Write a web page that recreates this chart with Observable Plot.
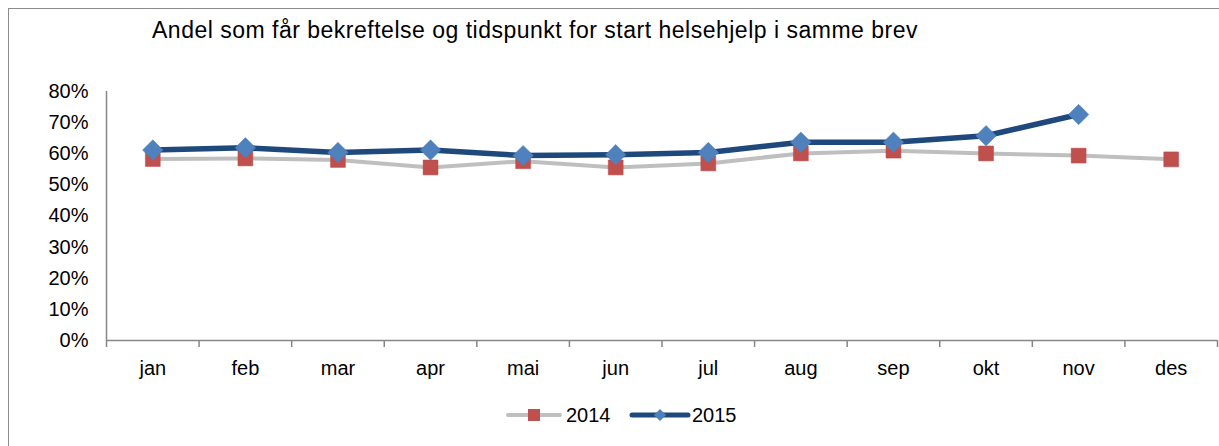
<!DOCTYPE html>
<html>
<head>
<meta charset="utf-8">
<script src="https://cdn.jsdelivr.net/npm/d3@7"></script>
<script src="https://cdn.jsdelivr.net/npm/@observablehq/plot@0.6"></script>
<style>
  body { margin: 0; background: #fff; }
  #wrap { position: relative; width: 1219px; height: 446px; overflow: hidden; background: #fff; font-family: "Liberation Sans", Arial, sans-serif; }
  #frame { position: absolute; left: 8px; top: 8px; width: 1400px; height: 600px; border: 1.5px solid #8c8c8c; box-sizing: border-box; }
  #title { position: absolute; left: 152px; top: 17px; font-size: 23px; line-height: 26px; color: #000; white-space: nowrap; letter-spacing: 0.5px; }
  #chart { position: absolute; left: 0; top: 60px; }
  #legend { position: absolute; left: 0; top: 402px; width: 1219px; height: 26px; }
  #legend span { position: absolute; top: 0; font-size: 20px; line-height: 26px; }
</style>
</head>
<body>
<div id="wrap">
  <div id="frame"></div>
  <div id="title"></div>
  <div id="chart"></div>
  <div id="legend"></div>
</div>
<script>
const titleText = "Andel som får bekreftelse og tidspunkt for start helsehjelp i samme brev";
const months = ["jan","feb","mar","apr","mai","jun","jul","aug","sep","okt","nov","des"];
const series = ["2014", "2015"];
const v2014 = [58.3, 58.5, 58.0, 55.6, 57.6, 55.6, 56.9, 60.1, 61.0, 60.1, 59.4, 58.2];
const v2015 = [61.2, 61.9, 60.4, 61.2, 59.4, 59.7, 60.4, 63.7, 63.7, 65.8, 72.6];
const yTicks = [0, 10, 20, 30, 40, 50, 60, 70, 80];

const c2014line = "#BFBFBF", c2014mark = "#C0504D";
const c2015line = "#1F497D", c2015mark = "#4F81BD";

const d2014 = v2014.map((v, i) => ({x: i + 0.5, month: months[i], v}));
const d2015 = v2015.map((v, i) => ({x: i + 0.5, month: months[i], v}));
const monthPos = months.map((m, i) => ({x: i + 0.5, m}));
const bounds = d3.range(months.length + 1);

document.getElementById("title").textContent = titleText;

const chart = Plot.plot({
  width: 1219,
  height: 330,
  marginLeft: 106,
  marginRight: 2,
  marginTop: 31,
  marginBottom: 50,
  style: {fontFamily: "Liberation Sans, Arial, sans-serif", fontSize: "20px", color: "#000", background: "transparent", overflow: "visible"},
  x: {type: "linear", domain: [0, months.length], axis: null},
  y: {type: "linear", domain: [0, 80], axis: null},
  marks: [
    Plot.axisY({ticks: yTicks, tickFormat: d => d + "%", tickSize: 0, tickPadding: 18, fontSize: 20, fill: "#000", label: null}),
    Plot.ruleX([0], {y1: 0, y2: 80, stroke: "#868686", strokeWidth: 1.5}),
    Plot.ruleY([0], {stroke: "#868686", strokeWidth: 1.5}),
    Plot.ruleX(bounds, {x: d => d, y1: 0, y2: 0, insetBottom: -7, stroke: "#868686", strokeWidth: 1.5}),
    Plot.text(monthPos, {x: "x", y: 0, text: "m", dy: 28, fontSize: 20, fill: "#000"}),
    Plot.line(d2014, {x: "x", y: "v", stroke: c2014line, strokeWidth: 4}),
    Plot.dot(d2014, {x: "x", y: "v", symbol: "square", r: 8.4, fill: c2014mark, stroke: "#b94a47", strokeWidth: 0.5}),
    Plot.line(d2015, {x: "x", y: "v", stroke: c2015line, strokeWidth: 5.5}),
    Plot.dot(d2015, {x: "x", y: "v", symbol: "diamond2", r: 9.2, fill: c2015mark, stroke: c2015mark, strokeWidth: 0.5})
  ]
});
document.getElementById("chart").appendChild(chart);

// Legend
const legend = document.getElementById("legend");
const lsvg = d3.select(legend).append("svg").attr("width", 1219).attr("height", 26).style("position", "absolute").style("left", 0).style("top", 0);
lsvg.append("line").attr("x1", 508).attr("x2", 560).attr("y1", 13).attr("y2", 13).attr("stroke", c2014line).attr("stroke-width", 4).attr("stroke-linecap", "round");
lsvg.append("rect").attr("x", 528).attr("y", 7).attr("width", 12).attr("height", 12).attr("fill", c2014mark);
lsvg.append("line").attr("x1", 632).attr("x2", 688).attr("y1", 13).attr("y2", 13).attr("stroke", c2015line).attr("stroke-width", 5).attr("stroke-linecap", "round");
lsvg.append("path").attr("d", "M660,7L666,13L660,19L654,13Z").attr("fill", c2015mark);
const s1 = document.createElement("span"); s1.textContent = series[0]; s1.style.left = "566px"; legend.appendChild(s1);
const s2 = document.createElement("span"); s2.textContent = series[1]; s2.style.left = "692px"; legend.appendChild(s2);
</script>
</body>
</html>
